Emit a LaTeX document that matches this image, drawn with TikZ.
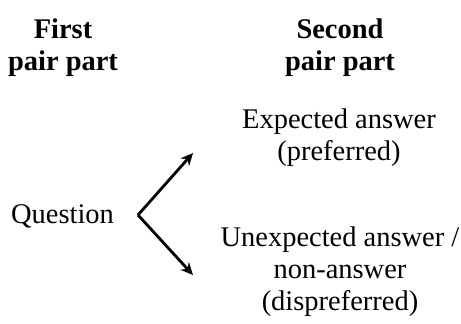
\documentclass[tikz,border=0pt]{standalone}
\usepackage{fontspec}
\setmainfont{Liberation Serif}
\usetikzlibrary{arrows.meta}
\tikzset{
  txt/.style={align=center, inner sep=0pt, font=\fontsize{16.2}{18.2}\selectfont},
  head/.style={txt, font=\fontsize{16.2}{18.2}\selectfont\bfseries},
  branch/.style={-{Stealth[length=7pt,width=6.5pt]}, line width=1.6pt}
}
\begin{document}
\begin{tikzpicture}
    \useasboundingbox (0,0) rectangle (9.22,6.48);
    \node[head] (first) at (1.26,5.52) {First\\pair part};
    \node[head] (second) at (6.8,5.52) {Second\\pair part};
    \node[txt] (question) at (1.25,2.16) {Question};
    \node[txt] (expected) at (6.78,3.72) {Expected answer\\(preferred)};
    \node[txt] (unexpected) at (6.8,1.04) {Unexpected answer /\\non-answer\\(dispreferred)};
    \coordinate (fork) at (2.76,2.18);
    \coordinate (up) at (3.86,3.42);
    \coordinate (down) at (3.86,0.98);
    \draw[branch] (fork) -- (up);
    \draw[branch] (fork) -- (down);
\end{tikzpicture}
\end{document}
